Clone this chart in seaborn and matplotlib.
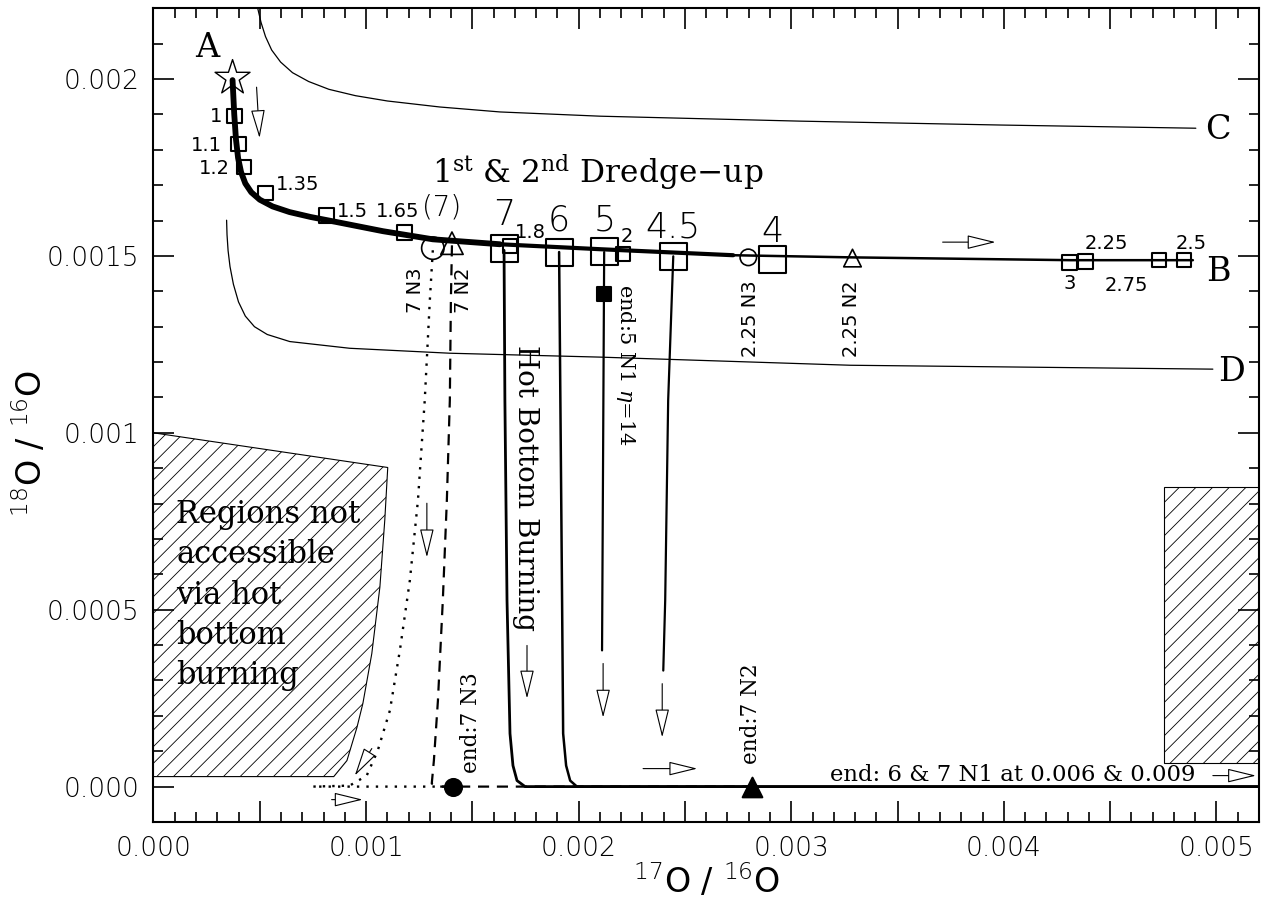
import numpy as np
import pandas as pd
import matplotlib.pyplot as plt
import seaborn as sns
from matplotlib.patches import Polygon, Rectangle

sns.set_style("ticks")
plt.rcParams['font.family'] = ['DejaVu Sans']
plt.rcParams['font.weight'] = 'light'
plt.rcParams['hatch.linewidth'] = 0.6
plt.rcParams['axes.linewidth'] = 1.5
for key in ['text.color', 'axes.labelcolor', 'xtick.color', 'ytick.color', 'axes.edgecolor']:
    plt.rcParams[key] = 'black'

SERIF = ['DejaVu Serif']

# ---------------- data: 17O/16O (x) and 18O/16O (y) ----------------
curve_c_x = [0.000490, 0.000506, 0.000527, 0.000556, 0.000598, 0.000654, 0.000730,
             0.000825, 0.000950, 0.001100, 0.001347, 0.001630, 0.002101, 0.003043,
             0.003985, 0.004903]
curve_c_y = [0.002201, 0.002160, 0.002120, 0.002082, 0.002048, 0.002018, 0.001993,
             0.001971, 0.001953, 0.001938, 0.001921, 0.001907, 0.001895, 0.001881,
             0.001870, 0.001861]

curve_d_x = [0.000344, 0.000346, 0.000351, 0.000360, 0.000376, 0.000400, 0.000432,
             0.000475, 0.000535, 0.000641, 0.000923, 0.001394, 0.002101, 0.003278,
             0.004983]
curve_d_y = [0.001601, 0.001560, 0.001515, 0.001470, 0.001420, 0.001370, 0.001330,
             0.001300, 0.001278, 0.001258, 0.001239, 0.001225, 0.001214, 0.001191,
             0.001180]

# first & second dredge-up track (A -> B)
track_x = [0.000372, 0.000380, 0.000388, 0.000398, 0.000412, 0.000432, 0.000460,
           0.000500, 0.000560, 0.000640, 0.000740, 0.000843, 0.001079, 0.001314,
           0.001630, 0.002101, 0.002727, 0.003278, 0.004315, 0.004889]
track_y = [0.001997, 0.001900, 0.001830, 0.001777, 0.001737, 0.001705, 0.001680,
           0.001659, 0.001640, 0.001624, 0.001610, 0.001598, 0.001570, 0.001547,
           0.001533, 0.001519, 0.001502, 0.001496, 0.001488, 0.001488]

# hot bottom burning tracks
hbb7_x = [0.001649, 0.001653, 0.001663, 0.001677, 0.001691, 0.001710, 0.001748, 0.009]
hbb7_y = [0.001516, 0.001092, 0.000526, 0.000150, 0.0000594, 0.000017, 0.0, 0.0]
hbb6_x = [0.001908, 0.001922, 0.001927, 0.001941, 0.001960, 0.001992, 0.006]
hbb6_y = [0.001511, 0.000526, 0.000150, 0.0000594, 0.000017, 0.0, 0.0]
hbb5_x = [0.002120, 0.002110]
hbb5_y = [0.001511, 0.000385]
hbb45_x = [0.002445, 0.002421, 0.002407, 0.002398]
hbb45_y = [0.001499, 0.001092, 0.000526, 0.000328]
n3_x = [0.001314, 0.001300, 0.001276, 0.001244, 0.001206, 0.001159, 0.001112,
        0.001055, 0.001003, 0.000923, 0.000749, 0.001408]
n3_y = [0.001516, 0.001375, 0.001092, 0.000809, 0.000583, 0.000385, 0.000215,
        0.000102, 0.0000311, 0.0000028, 0.0, 0.0]
n2_x = [0.001404, 0.001399, 0.001394, 0.001380, 0.001361, 0.001338, 0.001319,
        0.001309, 0.001347, 0.002817]
n2_y = [0.001530, 0.001375, 0.001092, 0.000809, 0.000526, 0.000243, 0.0000735,
        0.0000085, 0.0, 0.0]

# masses along the track
small_mass = ["1", "1.1", "1.2", "1.35", "1.5", "1.65", "1.8", "2", "2.25", "2.5", "2.75", "3"]
small_x = [0.000382, 0.000400, 0.000425, 0.000528, 0.000815, 0.001182, 0.001677,
           0.002209, 0.004385, 0.004847, 0.004729, 0.004310]
small_y = [0.001895, 0.001816, 0.001751, 0.001678, 0.001615, 0.001567, 0.001528,
           0.001505, 0.001485, 0.001488, 0.001488, 0.001482]
small_lx = [0.000322, 0.000322, 0.000360, 0.000575, 0.000862, 0.001149, 0.001771,
            0.002228, 0.004480, 0.004880, 0.004574, 0.004310]
small_ly = [0.001895, 0.001813, 0.001748, 0.001703, 0.001627, 0.001627, 0.001567,
            0.001556, 0.001536, 0.001536, 0.001417, 0.001423]
small_ha = ["right", "right", "right", "left", "left", "center", "center",
            "center", "center", "center", "center", "center"]

big_mass = ["7", "6", "5", "4.5", "4"]
big_x = [0.001649, 0.001908, 0.002120, 0.002445, 0.002911]
big_y = [0.001522, 0.001511, 0.001513, 0.001499, 0.001491]
big_ly = [0.001615, 0.001601, 0.001601, 0.001581, 0.001567]

star_x, star_y = [0.000372], [0.002003]
open_circ_x, open_circ_y, open_circ_s = [0.001314, 0.002798], [0.001522, 0.001496], [260, 140]
open_tri_x, open_tri_y, open_tri_s = [0.001404, 0.003288], [0.001536, 0.001494], [260, 160]
end_sq_x, end_sq_y = [0.002120], [0.001392]
end_circ_x, end_circ_y = [0.001408], [0.0]
end_tri_x, end_tri_y = [0.002817], [0.0]

# hatched regions not accessible via HBB
left_region_x = [0.0, 0.001102, 0.001088, 0.001065, 0.001027, 0.000985, 0.000957,
                 0.000910, 0.000848, 0.0]
left_region_y = [0.001000, 0.000902, 0.000753, 0.000564, 0.000376, 0.000235, 0.000167,
                 0.0000735, 0.0000283, 0.0000283]
right_region_x = [0.004753, 0.0052]
right_region_y = [0.0000679, 0.000846]

# arrows: (x_start, y_start, x_end, y_end)
arrows = [
    (0.000485, 0.001977, 0.000499, 0.001833),
    (0.001286, 0.000801, 0.001286, 0.000648),
    (0.001027, 0.0001075, 0.000947, 0.0000311),
    (0.000838, -0.0000368, 0.000984, -0.0000368),
    (0.001757, 0.000399, 0.001757, 0.000249),
    (0.002115, 0.000348, 0.002115, 0.000195),
    (0.002393, 0.000291, 0.002393, 0.000139),
    (0.002303, 0.0000509, 0.002558, 0.0000509),
    (0.003712, 0.001539, 0.003961, 0.001539),
    (0.004983, 0.0000311, 0.005186, 0.0000311),
]

x_ticks = [0.0, 0.0005, 0.001, 0.0015, 0.002, 0.0025, 0.003, 0.0035, 0.004, 0.0045, 0.005]
x_labels = ["0.000", "", "0.001", "", "0.002", "", "0.003", "", "0.004", "", "0.005"]
y_ticks = [0.0, 0.0005, 0.001, 0.0015, 0.002]
y_labels = ["0.000", "0.0005", "0.001", "0.0015", "0.002"]


def line(ax, xs, ys, **kw):
    df = pd.DataFrame({"x": xs, "y": ys})
    sns.lineplot(data=df, x="x", y="y", sort=False, estimator=None, ax=ax,
                 color="black", **kw)


def marks(ax, xs, ys, marker, s, filled=False, lw=1.5):
    sns.scatterplot(x=xs, y=ys, marker=marker, s=s, ax=ax, zorder=5,
                    facecolor="black" if filled else "none",
                    edgecolor="black", linewidth=lw)


fig = plt.figure(figsize=(12.61, 9.01), dpi=100)
ax = fig.add_axes([0.1217, 0.0877, 0.8767, 0.9031])

# hatched regions
ax.add_patch(Polygon(np.column_stack([left_region_x, left_region_y]), closed=True,
                     fill=False, hatch="//", edgecolor="black", lw=0.8, zorder=1))
ax.add_patch(Rectangle((right_region_x[0], right_region_y[0]),
                       right_region_x[1] - right_region_x[0],
                       right_region_y[1] - right_region_y[0],
                       fill=False, hatch="//", edgecolor="black", lw=0.8, zorder=1))

# envelope curves
line(ax, curve_c_x, curve_c_y, lw=0.9)
line(ax, curve_d_x, curve_d_y, lw=0.9)

# dredge-up track: many overlapping models make it thick near A
line(ax, track_x, track_y, lw=1.8)
line(ax, track_x[:17], track_y[:17], lw=3.0)
line(ax, track_x[:15], track_y[:15], lw=4.2)

# HBB tracks
line(ax, hbb7_x, hbb7_y, lw=2.0)
line(ax, hbb6_x, hbb6_y, lw=1.8)
line(ax, hbb5_x, hbb5_y, lw=1.6)
line(ax, hbb45_x, hbb45_y, lw=1.6)
line(ax, n3_x, n3_y, lw=1.7, linestyle=(0, (1.0, 3.0)))
line(ax, n2_x, n2_y, lw=1.6, linestyle=(0, (5, 3.5)))

# markers
marks(ax, star_x, star_y, "*", 700, lw=1.0)
marks(ax, small_x, small_y, "s", 110)
marks(ax, big_x, big_y, "s", 380)
marks(ax, open_circ_x, open_circ_y, "o", open_circ_s, lw=1.2)
marks(ax, open_tri_x, open_tri_y, "^", open_tri_s, lw=1.2)
marks(ax, end_sq_x, end_sq_y, "s", 90, filled=True)
marks(ax, end_circ_x, end_circ_y, "o", 150, filled=True)
marks(ax, end_tri_x, end_tri_y, "^", 200, filled=True)

for x0, y0, x1, y1 in arrows:
    ax.annotate("", xy=(x1, y1), xytext=(x0, y0),
                arrowprops=dict(arrowstyle="-|>,head_length=0.9,head_width=0.22",
                                mutation_scale=20, fc="white", ec="black", lw=0.8,
                                shrinkA=0, shrinkB=0))

# labels along track (small text in normal weight so it stays dark)
for lab, lx, ly, ha in zip(small_mass, small_lx, small_ly, small_ha):
    ax.text(lx, ly, lab, fontsize=14, fontweight="normal", ha=ha, va="center")
for lab, lx, ly in zip(big_mass, big_x, big_ly):
    ax.text(lx, ly, lab, fontsize=25, ha="center", va="center")
ax.text(0.001357, 0.001638, "(7)", fontsize=20, ha="center", va="center")

rot_kw = dict(fontsize=14, fontweight="normal", rotation=90, ha="center", va="center")
ax.text(0.001234, 0.001403, "7 N3", **rot_kw)
ax.text(0.001460, 0.001403, "7 N2", **rot_kw)
ax.text(0.002807, 0.001324, "2.25 N3", **rot_kw)
ax.text(0.003283, 0.001324, "2.25 N2", **rot_kw)

ax.text(0.000254, 0.002088, "A", fontsize=24, family=SERIF, ha="center", va="center")
ax.text(0.005007, 0.001454, "B", fontsize=24, family=SERIF, ha="center", va="center")
ax.text(0.005007, 0.001856, "C", fontsize=24, family=SERIF, ha="center", va="center")
ax.text(0.005073, 0.001171, "D", fontsize=24, family=SERIF, ha="center", va="center")

ax.text(0.002091, 0.001734, r"1$^{\rm st}$ & 2$^{\rm nd}$ Dredge$-$up", fontsize=22.5,
        family=SERIF, math_fontfamily="dejavuserif", ha="center", va="center")
ax.text(0.001752, 0.000845, "Hot Bottom Burning", fontsize=20, family=SERIF,
        rotation=-90, ha="center", va="center")
ax.text(0.002219, 0.001191, r"end:5 N1 $\eta$=14", fontsize=15, family=SERIF,
        math_fontfamily="dejavuserif", rotation=-90, ha="center", va="center")
ax.text(0.001493, 0.000181, "end:7 N3", fontsize=15.5, family=SERIF, rotation=90,
        ha="center", va="center")
ax.text(0.002812, 0.000206, "end:7 N2", fontsize=15.5, family=SERIF, rotation=90,
        ha="center", va="center")
ax.text(0.003184, 0.0000339, "end: 6 & 7 N1 at 0.006 & 0.009", fontsize=16.4,
        family=SERIF, ha="left", va="center")
ax.text(0.000108, 0.000812, "Regions not\naccessible\nvia hot\nbottom\nburning",
        fontsize=22, family=SERIF, ha="left", va="top", linespacing=1.38)

# axes
ax.set_xlim(0, 0.0052)
ax.set_ylim(-0.0001, 0.0022)
ax.set_xticks(x_ticks, x_labels)
ax.set_yticks(y_ticks, y_labels)
ax.set_xticks(np.arange(0, 0.00521, 0.0001), minor=True)
ax.set_yticks(np.arange(-0.0001, 0.00221, 0.0001), minor=True)
ax.tick_params(which="both", direction="in", top=True, right=True, width=1.2,
               labelsize=19, color="black")
ax.tick_params(which="major", length=15, pad=10)
ax.tick_params(which="minor", length=7.5)
for sp in ax.spines.values():
    sp.set_visible(True)
    sp.set_color("black")

ax.set_xlabel(r"$^{17}$O / $^{16}$O", fontsize=24)
ax.set_ylabel(r"$^{18}$O / $^{16}$O", fontsize=24)
ax.xaxis.set_label_coords(0.5, -0.073)
ax.xaxis.label.set_va("center")
ax.yaxis.set_label_coords(-0.112, 0.465)
ax.yaxis.label.set_va("center")

fig.savefig("out.png", dpi=100)
